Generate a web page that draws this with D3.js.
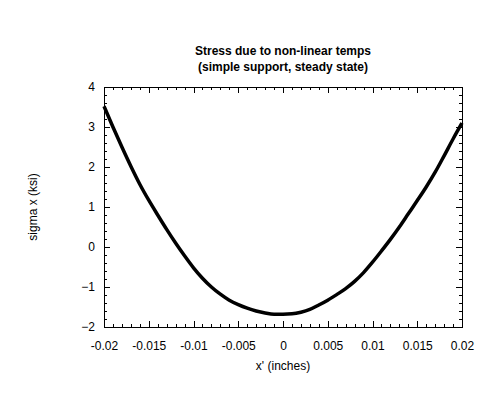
<!DOCTYPE html>
<html>
<head>
<meta charset="utf-8">
<script src="https://cdn.jsdelivr.net/npm/d3@7"></script>
<style>
  body { margin: 0; background: #fff; }
  svg { display: block; }
  .axis path { display: none; }
  .axis line { stroke: #000; shape-rendering: crispEdges; }
  .axis text { font-family: "Liberation Sans", Arial, sans-serif; font-size: 12px; fill: #000; }
</style>
</head>
<body>
<svg id="chart" width="496" height="394"></svg>
<script>
// Data (every 0.001 in)
const xVals = [-0.02, -0.019, -0.018, -0.017, -0.016, -0.015, -0.014, -0.013, -0.012, -0.011,
  -0.01, -0.009, -0.008, -0.007, -0.006, -0.005, -0.004, -0.003, -0.002, -0.001,
  0, 0.001, 0.002, 0.003, 0.004, 0.005, 0.006, 0.007, 0.008, 0.009,
  0.01, 0.011, 0.012, 0.013, 0.014, 0.015, 0.016, 0.017, 0.018, 0.019, 0.02];
const sigmaVals = [3.52, 3.0, 2.5, 2.02, 1.57, 1.17, 0.8, 0.44, 0.1, -0.22,
  -0.52, -0.78, -1.0, -1.18, -1.33, -1.44, -1.53, -1.6, -1.65, -1.68,
  -1.68, -1.67, -1.63, -1.56, -1.45, -1.33, -1.19, -1.04, -0.86, -0.64,
  -0.38, -0.1, 0.19, 0.5, 0.83, 1.16, 1.5, 1.87, 2.28, 2.7, 3.1];

const xTicks = [-0.02, -0.015, -0.01, -0.005, 0, 0.005, 0.01, 0.015, 0.02];
const yTicks = [-2, -1, 0, 1, 2, 3, 4];
const titleLines = ["Stress due to non-linear temps", "(simple support, steady state)"];

const svg = d3.select("#chart");
const margin = { left: 104, right: 34, top: 87, bottom: 67 };
const W = 496, H = 394;

const x = d3.scaleLinear().domain([-0.02, 0.02]).range([margin.left, W - margin.right]);
const y = d3.scaleLinear().domain([-2, 4]).range([H - margin.bottom, margin.top]);

const xMinor = d3.range(-0.02, 0.02001, 0.001).map(v => +v.toFixed(4));
const yMinor = d3.range(-2, 4.001, 0.2).map(v => +v.toFixed(2));
const fmt = d => d === 0 ? "0" : String(+d.toFixed(3));

// minor ticks, all four sides
svg.append("g").attr("class", "axis").attr("transform", `translate(0,${y(-2)})`)
  .call(d3.axisBottom(x).tickValues(xMinor).tickSize(-3).tickFormat(""));
svg.append("g").attr("class", "axis").attr("transform", `translate(0,${y(4)})`)
  .call(d3.axisTop(x).tickValues(xMinor).tickSize(-3).tickFormat(""));
svg.append("g").attr("class", "axis").attr("transform", `translate(${x(-0.02)},0)`)
  .call(d3.axisLeft(y).tickValues(yMinor).tickSize(-3).tickFormat(""));
svg.append("g").attr("class", "axis").attr("transform", `translate(${x(0.02)},0)`)
  .call(d3.axisRight(y).tickValues(yMinor).tickSize(-3).tickFormat(""));

// major ticks
svg.append("g").attr("class", "axis").attr("transform", `translate(0,${y(-2)})`)
  .call(d3.axisBottom(x).tickValues(xTicks).tickSize(-6).tickPadding(14).tickFormat(fmt));
svg.append("g").attr("class", "axis").attr("transform", `translate(0,${y(4)})`)
  .call(d3.axisTop(x).tickValues(xTicks).tickSize(-6).tickFormat(""));
svg.append("g").attr("class", "axis").attr("transform", `translate(${x(-0.02)},0)`)
  .call(d3.axisLeft(y).tickValues(yTicks).tickSize(-6).tickPadding(9).tickFormat(d3.format("d")));
svg.append("g").attr("class", "axis").attr("transform", `translate(${x(0.02)},0)`)
  .call(d3.axisRight(y).tickValues(yTicks).tickSize(-6).tickFormat(""));

// frame
svg.append("rect")
  .attr("x", x(-0.02) + 0.5).attr("y", y(4) + 0.5)
  .attr("width", x(0.02) - x(-0.02)).attr("height", y(-2) - y(4))
  .attr("fill", "none").attr("stroke", "#000").attr("shape-rendering", "crispEdges");

// curve
const pts = xVals.map((v, i) => [v, sigmaVals[i]]);
svg.append("path")
  .datum(pts)
  .attr("fill", "none")
  .attr("stroke", "#000")
  .attr("stroke-width", 3.5)
  .attr("d", d3.line().x(d => x(d[0])).y(d => y(d[1])).curve(d3.curveMonotoneX));

// titles
svg.append("g").selectAll("text")
  .data(titleLines)
  .enter().append("text")
  .attr("x", (x(-0.02) + x(0.02)) / 2)
  .attr("y", (d, i) => 55 + i * 16)
  .attr("text-anchor", "middle")
  .attr("font-family", "'Liberation Sans', Arial, sans-serif")
  .attr("font-weight", "bold")
  .attr("font-size", 12)
  .text(d => d);

svg.append("text")
  .attr("x", (x(-0.02) + x(0.02)) / 2)
  .attr("y", 370)
  .attr("text-anchor", "middle")
  .attr("font-family", "'Liberation Sans', Arial, sans-serif")
  .attr("font-size", 12)
  .text("x' (inches)");

svg.append("text")
  .attr("transform", `translate(37,${y(1)}) rotate(-90)`)
  .attr("text-anchor", "middle")
  .attr("font-family", "'Liberation Sans', Arial, sans-serif")
  .attr("font-size", 12)
  .text("sigma x (ksi)");
</script>
</body>
</html>
